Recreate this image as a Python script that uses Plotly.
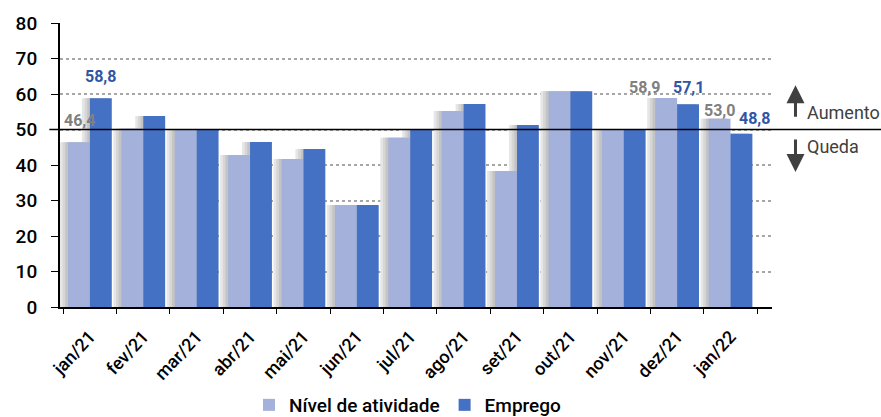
import plotly.graph_objects as go

categories = ["jan/21", "fev/21", "mar/21", "abr/21", "mai/21", "jun/21", "jul/21",
              "ago/21", "set/21", "out/21", "nov/21", "dez/21", "jan/22"]
nivel = [46.4, 50.2, 50.1, 42.8, 41.7, 28.7, 47.7, 55.2, 38.3, 60.8, 50.1, 58.9, 53.0]
emprego = [58.8, 53.8, 50.0, 46.5, 44.5, 28.7, 50.1, 57.2, 51.3, 60.8, 50.0, 57.1, 48.8]
yticks = [0, 10, 20, 30, 40, 50, 60, 70, 80]

FONT = "Roboto"
BW = 0.41
fig = go.Figure()
# soft shadows behind the bars
for off, col in [(0.15, "#e6e6e6"), (0.10, "#d6d6d6"), (0.05, "#c4c4c4")]:
    fig.add_trace(go.Bar(x=categories, y=nivel, offset=-BW - off, width=BW,
                         marker=dict(color=col, line=dict(width=0)),
                         showlegend=False, hoverinfo="skip"))
    fig.add_trace(go.Bar(x=categories, y=emprego, offset=-off, width=BW,
                         marker=dict(color=col, line=dict(width=0)),
                         showlegend=False, hoverinfo="skip"))
fig.add_trace(go.Bar(x=categories, y=nivel, name="Nível de atividade", offset=-BW, width=BW,
                     marker=dict(color="#a3b1db", line=dict(width=0))))
fig.add_trace(go.Bar(x=categories, y=emprego, name="Emprego", offset=0, width=BW,
                     marker=dict(color="#4571c5", line=dict(width=0))))

# data labels (index, value, xshift, yshift, color)
labels = [
    (0, nivel[0], -10, 22, "#808080"),
    (0, emprego[0], 11, 22, "#2f55a4"),
    (11, nivel[11], -33, 10, "#808080"),
    (11, emprego[11], 11, 17, "#2f55a4"),
    (12, nivel[12], -11, 8, "#808080"),
    (12, emprego[12], 24, 15, "#2f55a4"),
]
for i, v, xs, ys, c in labels:
    fig.add_annotation(x=categories[i], y=v, text=f"{v:.1f}".replace(".", ","),
                       showarrow=False, xshift=xs, yshift=ys,
                       font=dict(family=FONT, size=16, color=c, weight="bold"))

# reference line at 50
fig.add_shape(type="line", xref="paper", yref="y", x0=-0.015, x1=1.16, y0=50, y1=50,
              line=dict(color="black", width=1.5))
# arrows
fig.add_annotation(xref="paper", yref="y", x=1.033, y=62.5, ax=0, ay=33,
                   axref="pixel", ayref="pixel", showarrow=True, arrowhead=2, arrowsize=1.2,
                   arrowwidth=3, arrowcolor="#404040", text="")
fig.add_annotation(xref="paper", yref="y", x=1.033, y=38, ax=0, ay=-34,
                   axref="pixel", ayref="pixel", showarrow=True, arrowhead=2, arrowsize=1.2,
                   arrowwidth=3, arrowcolor="#404040", text="")
fig.add_annotation(xref="paper", yref="y", x=1.047, y=54.8, text="Aumento", showarrow=False,
                   xanchor="left", font=dict(family=FONT, size=18, color="#404040"))
fig.add_annotation(xref="paper", yref="y", x=1.047, y=45.3, text="Queda", showarrow=False,
                   xanchor="left", font=dict(family=FONT, size=18, color="#404040"))

fig.update_layout(
    width=881, height=417,
    margin=dict(l=60, r=109, t=23, b=110),
    plot_bgcolor="white", paper_bgcolor="white",
    barmode="overlay",
    font=dict(family=FONT, color="black"),
    showlegend=True,
    legend=dict(orientation="h", x=408 / 881, xanchor="center", xref="container",
                y=1 - 405 / 417, yanchor="middle", yref="container",
                font=dict(family=FONT, size=19, color="black", weight=500),
                itemwidth=30, tracegroupgap=0),
)
fig.update_xaxes(type="category", showline=True, linecolor="black", linewidth=2,
                 ticks="outside", tickson="boundaries", ticklen=5, tickcolor="black",
                 tickangle=-47, automargin=False, ticklabelstandoff=10,
                 tickfont=dict(family=FONT, size=18, color="black", weight=500),
                 showgrid=False)
fig.update_yaxes(range=[0, 80], tickvals=yticks, showline=True, linecolor="black", linewidth=2,
                 ticks="outside", ticklen=7, tickcolor="black", automargin=False,
                 ticklabelstandoff=10,
                 tickfont=dict(family=FONT, size=19, color="black", weight=500),
                 showgrid=True, gridcolor="#a6a6a6", griddash="dot", gridwidth=2,
                 zeroline=False)

fig.write_html("out.html", config={"displayModeBar": False},
               post_script="document.body.style.margin='0';document.body.style.overflow='hidden';")
